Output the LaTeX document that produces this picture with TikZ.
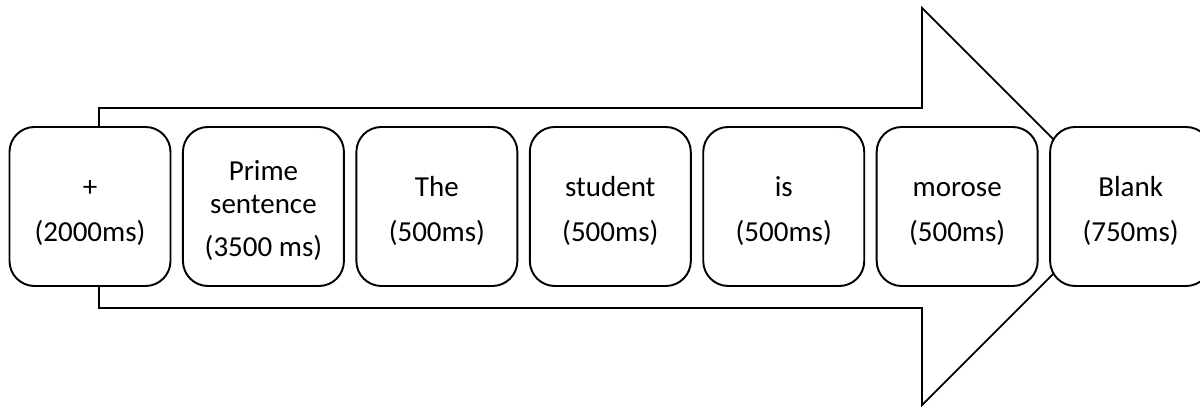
\documentclass[tikz,border=0pt]{standalone}
\usepackage{fontspec}
\setmainfont{Carlito}
\usetikzlibrary{positioning}
\newcommand{\boxtop}{\rule{0pt}{19.5pt}}

\begin{document}
\begin{tikzpicture}[
    stimbox/.style={draw=black,line width=1.1pt,fill=white,rounded corners=0.5cm,
        minimum width=3.22cm,minimum height=3.18cm,align=center,
        font=\fontsize{16.5}{18.5}\selectfont},
    node distance=0.21cm]
\useasboundingbox (0,0) rectangle (24,8.18);

\draw[line width=1pt,line join=miter]
       (1.98,6.02)--(18.44,6.02)--(18.44,8.02)--(22.41,4.05)
     --(18.44,0.08)--(18.44,2.02)--(1.98,2.02)--cycle;

\node[stimbox] (fix) at (1.80,4.05) {\boxtop+\\[7pt]\strut(2000ms)};
\node[stimbox,right=of fix] (prime) {\boxtop Prime\\\strut sentence\\[6pt]\strut(3500 ms)};
\node[stimbox,right=of prime] (the) {\boxtop The\\[7pt]\strut(500ms)};
\node[stimbox,right=of the] (student) {\boxtop student\\[7pt]\strut(500ms)};
\node[stimbox,right=of student] (is) {\boxtop is\\[7pt]\strut(500ms)};
\node[stimbox,right=of is] (morose) {\boxtop morose\\[7pt]\strut(500ms)};
\node[stimbox,right=of morose] (blank) {\boxtop Blank\\[7pt]\strut(750ms)};
\end{tikzpicture}
\end{document}
